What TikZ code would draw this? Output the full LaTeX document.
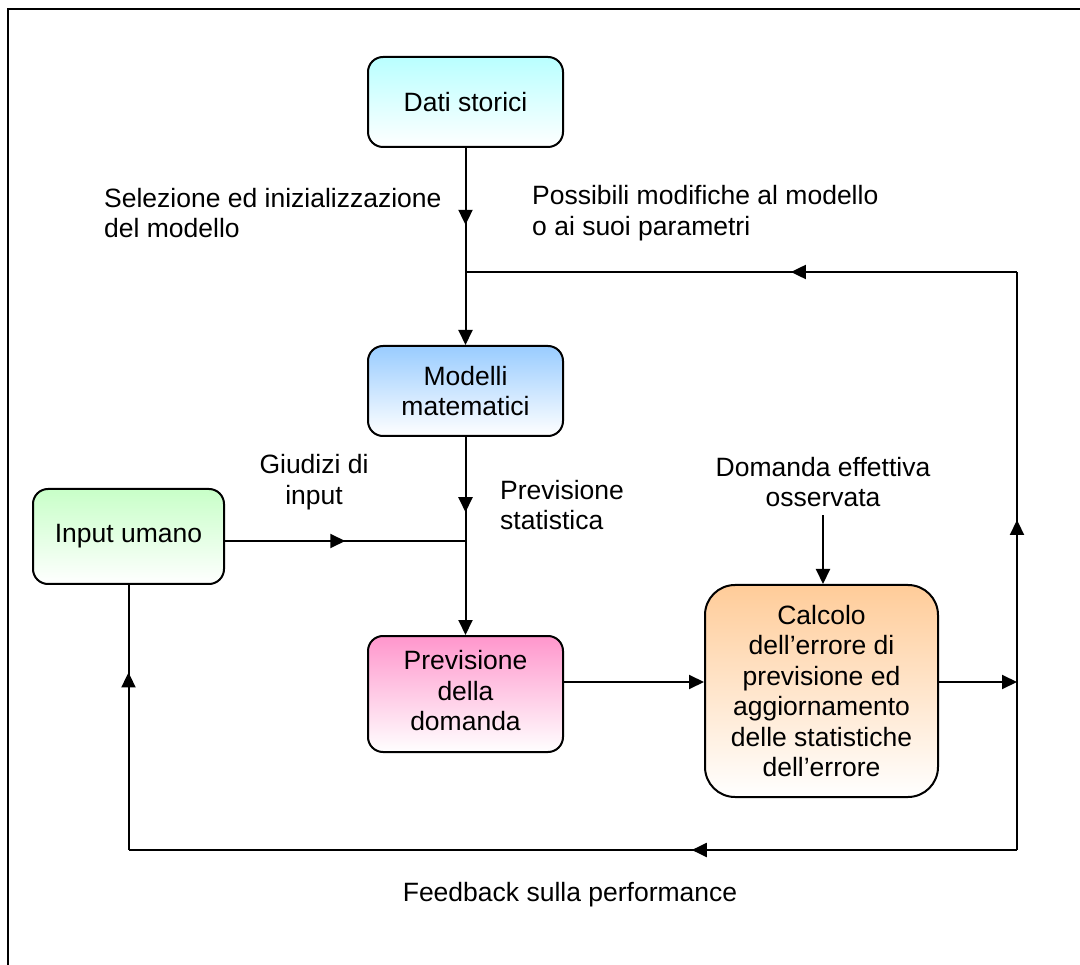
\documentclass[tikz,border=0pt]{standalone}
\usepackage{fontspec}
\setmainfont{Liberation Sans}
\usetikzlibrary{arrows.meta,decorations.markings,calc}
\definecolor{cyanT}{RGB}{185,255,255}
\definecolor{blueT}{RGB}{153,204,255}
\definecolor{greenT}{RGB}{200,255,200}
\definecolor{pinkT}{RGB}{255,150,204}
\definecolor{orangeT}{RGB}{255,204,153}
\begin{document}
\begin{tikzpicture}[x=1pt,y=-1pt,
  >={Triangle[length=15pt,width=14pt]},
  txt/.style={font=\fontsize{26.5}{30.5}\selectfont, inner sep=0pt},
  box/.style={txt, draw, line width=2pt, rounded corners=15pt, minimum width=195pt, minimum height=90pt, align=center, bottom color=white},
  conn/.style={line width=2pt},
  midarrow/.style={postaction={decorate}, decoration={markings, mark=at position #1 with {\arrow{>}}}}
]
\useasboundingbox (0,0) rectangle (1080,965);
\draw[line width=2.4pt] (8,965) -- (8,9) -- (1080,9);

\node[box, top color=cyanT] (dati) at (465.5,102) {Dati storici};
\node[box, top color=blueT] (modelli) at (465.5,391) {Modelli\\matematici};
\node[box, top color=greenT, minimum width=191pt, minimum height=95pt] (input) at (128.5,536.5) {Input umano};
\node[box, top color=pinkT, minimum height=116pt] (prev) at (465.5,694) {\raisebox{3pt}{\begin{tabular}{@{}c@{}}Previsione\\della\\domanda\end{tabular}}};
\node[box, top color=orangeT, minimum width=233pt, minimum height=212pt, rounded corners=30pt] (calc) at (821.5,691) {Calcolo\\dell’errore di\\previsione ed\\aggiornamento\\delle statistiche\\dell’errore};

\node[txt, align=left, anchor=west] (sel) at (104,213) {Selezione ed inizializzazione\\del modello};
\node[txt, align=left, anchor=west] (poss) at (532,213) {Possibili modifiche al modello\\o ai suoi parametri};
\node[txt, align=center] (giud) at (314,482) {Giudizi di\\input};
\node[txt, align=left, anchor=west] (stat) at (500,505) {Previsione\\statistica};
\node[txt, align=center] (dom) at (823,482) {Domanda effettiva\\osservata};
\node[txt] (feed) at (570,895) {Feedback sulla performance};

\coordinate (j1) at (465.5,272);
\coordinate (j2) at (465.5,541);
\coordinate (tr) at (1017,272);
\coordinate (mr) at (1017,682);
\coordinate (br) at (1017,850);
\coordinate (bl) at (128.5,850);

\draw[conn, ->, midarrow=0.39] (dati) -- (modelli);
\draw[conn, midarrow=0.41] (tr) -- (j1);
\draw[conn, ->, midarrow=0.38] (modelli) -- (prev);
\draw[conn, midarrow=0.5] (input.east |- j2) -- (j2);
\draw[conn, ->] (prev.east |- mr) -- (calc.west |- mr);
\draw[conn, ->] (calc.east |- mr) -- (mr);
\draw[conn, midarrow=0.571] (br) -- (tr);
\draw[conn, midarrow=0.366] (br) -- (bl);
\draw[conn, midarrow=0.67] (bl) -- (input.south);
\draw[conn, ->, shorten <=8pt] (dom.south) -- (dom.south |- calc.north);
\end{tikzpicture}
\end{document}
